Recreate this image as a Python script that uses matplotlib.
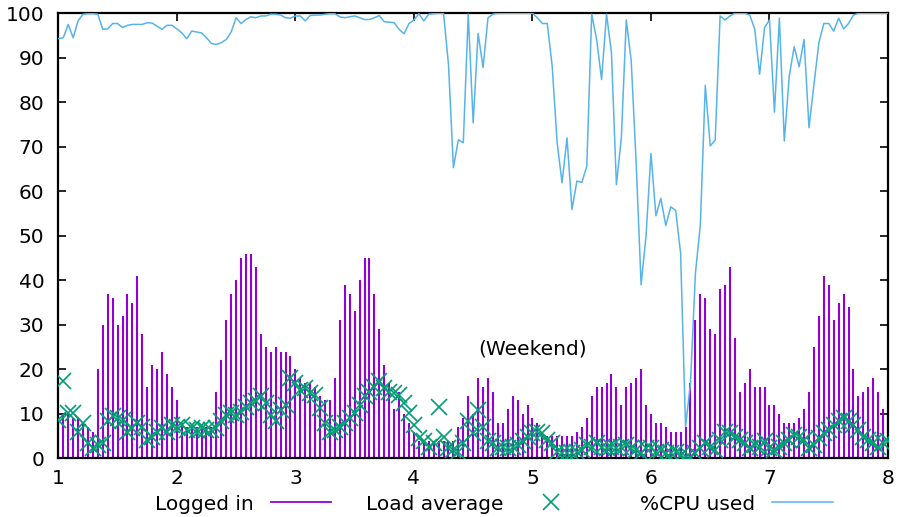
import numpy as np
import matplotlib
matplotlib.use("Agg")
import matplotlib.pyplot as plt
from matplotlib.lines import Line2D

# hourly samples over one week (day 1 .. day 8)
days = np.linspace(1, 8, 169)

logged_in = [
    10, 10, 10, 9, 9, 8, 7, 6, 20, 30, 37, 36, 30, 32, 37, 35, 41, 28, 16, 21, 20, 24, 19, 16,
    13, 8, 7, 7, 7, 7, 7, 7, 15, 22, 31, 37, 40, 45, 46, 46, 43, 28, 25, 24, 25, 24, 24, 23,
    20, 18, 17, 17, 16, 14, 13, 13, 18, 31, 39, 37, 33, 40, 45, 45, 37, 29, 21, 17, 11, 15, 10, 8,
    6, 4, 4, 4, 4, 4, 4, 4, 4, 7, 9, 14, 10, 18, 16, 18, 15, 8, 8, 11, 14, 13, 10, 12,
    9, 8, 6, 5, 5, 5, 5, 5, 5, 6, 7, 9, 14, 16, 16, 17, 19, 16, 12, 16, 17, 18, 20, 12,
    10, 8, 8, 7, 6, 6, 6, 7, 17, 31, 37, 36, 29, 28, 38, 39, 43, 27, 15, 17, 20, 16, 16, 16,
    12, 12, 10, 8, 8, 8, 9, 11, 15, 25, 32, 41, 39, 31, 35, 37, 34, 20, 14, 15, 16, 18, 15, 11,
    10,
]

load_avg = [
    8.6, 17.3, 10.1, 10.1, 6.0, 7.9, 3.4, 2.3, 3.0, 3.4, 8.3, 9.4, 9.0, 8.6, 6.0, 6.8, 7.9, 7.1,
    4.1, 4.9, 6.0, 6.8, 6.0, 7.5, 7.1, 7.5, 6.4, 6.8, 6.4, 6.8, 6.4, 6.4, 6.8, 8.3, 9.8, 10.1,
    9.8, 10.5, 11.6, 12.4, 12.8, 14.0, 12.4, 9.8, 8.3, 10.9, 12.0, 18.0, 16.9, 15.4, 15.8, 14.6,
    14.3, 11.3, 7.9, 6.0, 6.4, 7.1, 7.9, 9.0, 10.1, 12.0, 13.9, 15.0, 16.1, 17.3, 15.8, 15.0,
    14.6, 14.3, 12.4, 10.1, 7.5, 4.5, 3.8, 2.6, 3.5, 11.6, 4.9, 2.3, 1.9, 1.5, 3.5, 8.3, 5.6,
    10.9, 7.1, 3.8, 3.4, 2.3, 2.6, 2.3, 2.6, 3.0, 3.8, 4.9, 5.6, 6.0, 5.6, 4.1, 3.4, 1.5, 1.1,
    1.1, 1.1, 1.5, 1.9, 3.0, 2.6, 3.4, 2.6, 2.3, 2.6, 2.3, 2.6, 3.0, 2.3, 1.9, 1.1, 2.3, 2.3,
    1.5, 1.9, 1.1, 1.1, 1.5, 0.8, 0.4, 0.4, 1.1, 2.3, 3.4, 2.6, 1.9, 4.1, 6.0, 5.6, 4.9, 4.1,
    3.4, 2.3, 3.0, 2.6, 3.8, 2.3, 1.9, 2.6, 3.4, 4.1, 5.3, 4.9, 4.1, 2.3, 3.0, 4.5, 5.6, 6.4,
    7.5, 8.3, 9.0, 8.3, 7.5, 6.4, 4.9, 4.1, 3.4, 2.6, 3.4, 3.8,
]

cpu_used = [
    94.3, 94.5, 97.5, 94.5, 98.3, 99.8, 99.9, 99.9, 99.8, 96.4, 96.5, 97.7, 97.7, 96.8, 97.3,
    97.5, 97.5, 97.5, 97.9, 97.8, 97.1, 96.4, 97.3, 97.3, 96.5, 95.6, 94.3, 96.0, 95.8, 95.6,
    94.5, 93.2, 93.0, 93.4, 94.1, 95.8, 99.0, 97.7, 98.6, 99.2, 99.0, 99.4, 99.4, 99.8, 99.8,
    99.6, 99.0, 98.9, 99.4, 99.4, 98.3, 99.5, 99.6, 99.6, 99.8, 99.9, 99.9, 99.2, 99.0, 99.2,
    99.4, 99.0, 98.6, 98.6, 99.0, 99.5, 98.1, 98.0, 97.9, 96.4, 95.4, 97.7, 98.5, 99.9, 98.3,
    99.8, 99.9, 100, 100, 88.5, 65.3, 71.6, 70.9, 99.8, 75.4, 95.5, 87.8, 99.0, 99.8, 100,
    100, 100, 100, 100, 100, 100, 100, 99.0, 97.7, 97.7, 88.1, 70.9, 61.9, 72.0, 55.9, 62.3,
    62.0, 65.6, 99.8, 94.1, 85.1, 99.8, 91.1, 61.5, 72.0, 98.5, 89.3, 66.4, 39.0, 50.0, 68.5,
    54.5, 58.4, 52.3, 56.5, 55.7, 46.1, 7.1, 16.9, 41.6, 52.5, 83.8, 70.2, 71.5, 99.4, 98.5,
    99.4, 100, 100, 100, 99.6, 96.5, 86.3, 96.8, 98.5, 77.8, 98.9, 71.3, 85.9, 92.5, 88.0,
    94.1, 74.3, 84.0, 93.4, 97.7, 97.7, 96.0, 98.9, 96.5, 97.7, 99.6, 100, 100, 100, 100, 100,
    100, 100,
]

series_names = ["Logged in", "Load average", "%CPU used"]

PURPLE = "#9400d3"
GREEN = "#009e73"
BLUE = "#56b4e9"
FS = 14.5

plt.rcParams["font.family"] = ["DejaVu Sans"]
fig = plt.figure(figsize=(9, 5.17), dpi=100)
ax = fig.add_axes([0.0648, 0.1135, 0.9219, 0.8608])

ax.vlines(days, 0, logged_in, color=PURPLE, lw=1.5, zorder=2)
ax.plot(days, load_avg, ls="none", marker="x", ms=11.5, mew=1.2, color=GREEN, zorder=3)
ax.plot(days, cpu_used, color=BLUE, lw=1.1, zorder=4)

ax.text(5, 24.6, "(Weekend)", ha="center", va="center", fontsize=FS, color="black")

ax.set_xlim(1, 8)
ax.set_ylim(0, 100)
ax.set_xticks(range(1, 9))
ax.set_yticks(range(0, 101, 10))
ax.tick_params(direction="in", length=6, width=1.2, top=True, right=True, labelsize=FS)
ax.tick_params(axis="x", pad=8)
ax.tick_params(axis="y", pad=10)
for s in ax.spines.values():
    s.set_linewidth(1.6)

# gnuplot-style key: text followed by sample, three fixed slots along the bottom
handles = [
    Line2D([], [], color=PURPLE, lw=1.3),
    Line2D([], [], ls="none", marker="x", ms=11.5, mew=1.2, color=GREEN),
    Line2D([], [], color=BLUE, lw=1.1),
]
key_x = [155 / 900, 366 / 900, 640 / 900]
for h, name, kx in zip(handles, series_names, key_x):
    fig.legend([h], [name], loc="center left", bbox_to_anchor=(kx, 1 - 504 / 517),
               frameon=False, markerfirst=False, fontsize=FS, handlelength=3.0,
               handletextpad=0.85, borderpad=0, borderaxespad=0)

fig.savefig("out.png", dpi=100)
